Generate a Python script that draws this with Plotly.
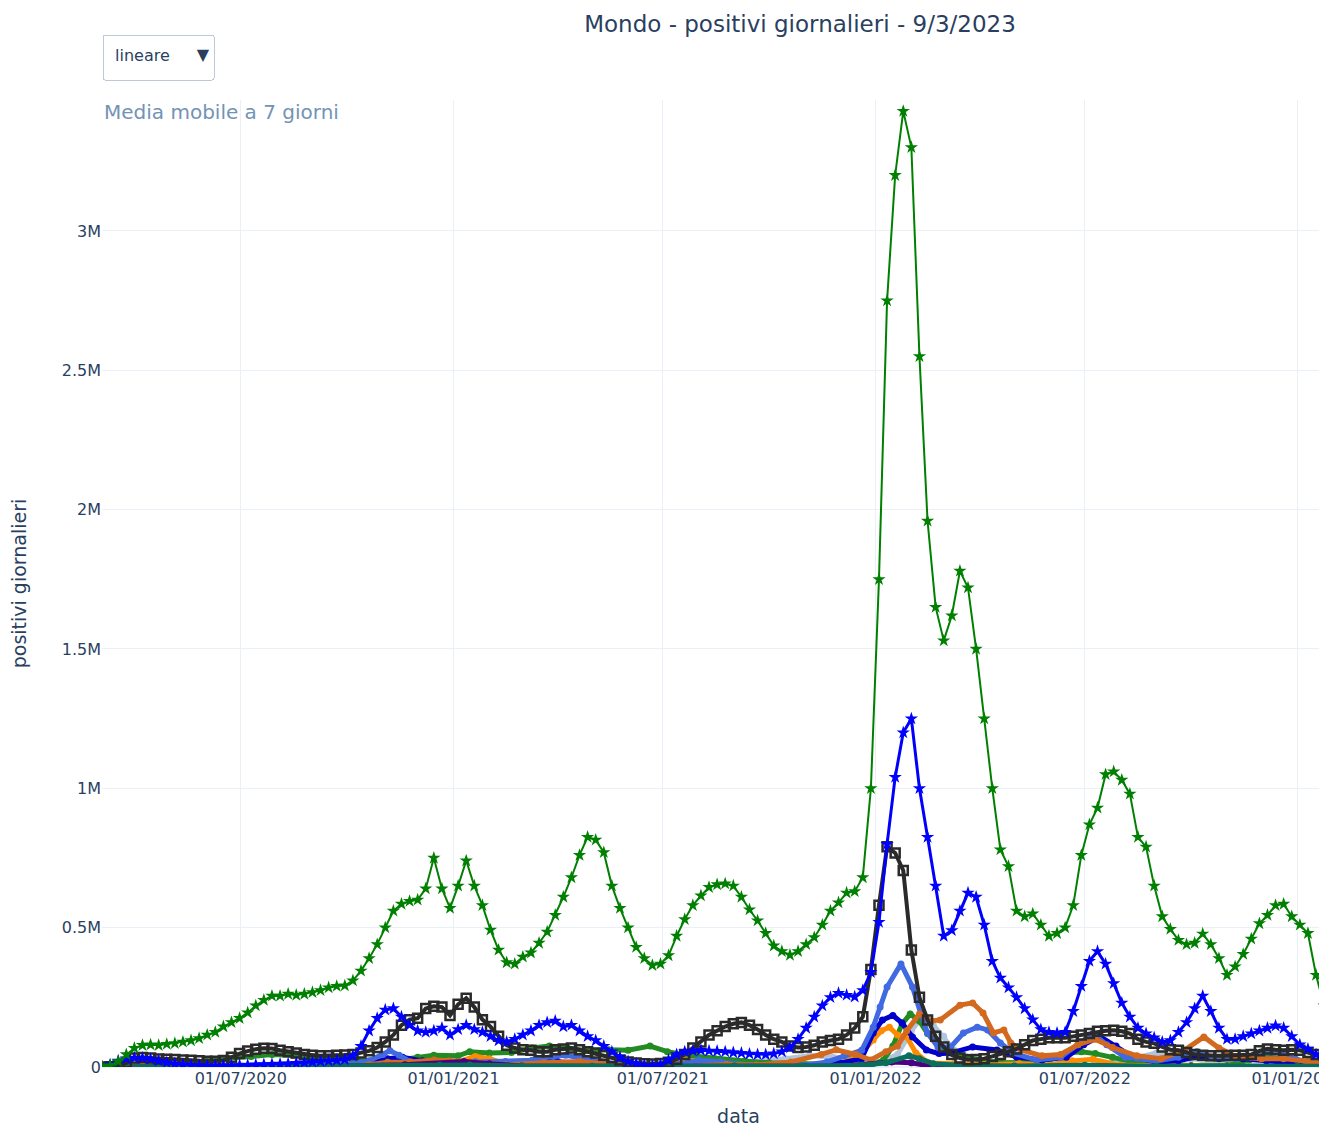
import plotly.graph_objects as go
import pandas as pd

# ---------------- data (values in thousands of daily cases, 7-day moving average) ----------------
WEEKLY_START = "2020-03-03"

mondo = [2, 5, 20, 45, 68, 78, 80, 78, 82, 85,
         90, 95, 103, 115, 125, 145, 160, 175, 195, 220,
         240, 255, 255, 262, 258, 262, 268, 275, 285, 290,
         292, 310, 345, 390, 440, 500, 560, 585, 595, 600,
         640, 750, 640, 570, 650, 740, 650, 580, 492, 420,
         375, 370, 395, 410, 445, 485, 545, 610, 680, 760,
         825, 815, 770, 650, 570, 500, 430, 390, 365, 370,
         400, 470, 530, 580, 615, 645, 655, 658, 650, 610,
         565, 525, 480, 435, 415, 402, 415, 440, 465, 510,
         560, 590, 625, 630, 680, 1000, 1750, 2750, 3200, 3430,
         3300, 2550, 1960, 1650, 1530, 1620, 1780, 1720, 1500, 1250,
         1000, 780, 720, 560, 540, 550, 510, 470, 480, 500,
         580, 760, 870, 930, 1050, 1060, 1030, 980, 825, 790,
         650, 540, 495, 455, 440, 445, 478, 440, 390, 330,
         360, 405, 460, 515, 545, 580, 585, 540, 510, 480,
         330, 220, 160, 130, 120, 110, 100]

europa = [1, 8, 22, 30, 33, 32, 28, 22, 16, 12,
          9, 7, 6, 5, 5, 5, 5, 6, 7, 8,
          9, 10, 11, 12, 14, 16, 18, 20, 22, 24,
          27, 40, 75, 130, 175, 205, 210, 180, 150, 130,
          125, 130, 140, 115, 135, 150, 135, 125, 110, 95,
          90, 100, 115, 130, 150, 160, 165, 145, 150, 130,
          110, 95, 75, 55, 35, 20, 12, 6, 4, 8,
          25, 45, 55, 58, 60, 58, 57, 55, 52, 50,
          47, 45, 45, 48, 55, 70, 100, 140, 180, 220,
          250, 265, 258, 252, 275, 340, 520, 800, 1040, 1200,
          1250, 1000, 825, 650, 470, 490, 560, 625, 610, 510,
          380, 320, 285, 250, 210, 170, 135, 125, 122, 125,
          200, 290, 380, 415, 370, 300, 230, 180, 140, 120,
          105, 90, 95, 125, 160, 210, 255, 200, 140, 100,
          100, 110, 120, 130, 140, 148, 140, 110, 80, 65,
          45, 30, 25, 25, 22, 20, 18]

usa = [0, 1, 5, 15, 32, 34, 32, 29, 28, 27,
       25, 24, 22, 21, 21, 23, 35, 48, 57, 64,
       67, 66, 60, 55, 50, 45, 42, 40, 40, 42,
       43, 45, 50, 58, 70, 90, 115, 150, 170, 175,
       210, 218, 215, 185, 225, 247, 215, 170, 145, 110,
       78, 68, 62, 60, 55, 55, 62, 65, 68, 62,
       55, 50, 42, 33, 25, 18, 14, 12, 11, 13,
       17, 28, 45, 68, 90, 115, 130, 145, 155, 160,
       150, 135, 115, 100, 90, 75, 70, 72, 78, 90,
       95, 100, 115, 140, 180, 350, 580, 790, 768, 705,
       420, 250, 169, 110, 72, 45, 32, 26, 27, 30,
       38, 45, 55, 65, 80, 95, 100, 105, 105, 105,
       110, 115, 120, 128, 130, 132, 128, 120, 100, 90,
       85, 72, 62, 60, 52, 45, 42, 40, 40, 41,
       42, 42, 45, 58, 65, 62, 60, 62, 60, 52,
       45, 42, 40, 38, 36, 32, 30]

francia_date = ["2020-03-03", "2020-03-28", "2020-04-08", "2020-04-25", "2020-06-01", "2020-07-20", "2020-08-20",
                "2020-09-15", "2020-10-05", "2020-10-20", "2020-11-01", "2020-11-07", "2020-11-15", "2020-11-25",
                "2020-12-10", "2020-12-25", "2021-01-20", "2021-02-15", "2021-03-10", "2021-03-28", "2021-04-08",
                "2021-04-22", "2021-05-10", "2021-06-01", "2021-06-25", "2021-07-15", "2021-08-01", "2021-08-20",
                "2021-09-15", "2021-10-10", "2021-11-01", "2021-11-20", "2021-12-05", "2021-12-20", "2021-12-30",
                "2022-01-05", "2022-01-11", "2022-01-23", "2022-02-02", "2022-02-09", "2022-02-15", "2022-02-24",
                "2022-03-07", "2022-03-18", "2022-03-30", "2022-04-08", "2022-04-19", "2022-04-30", "2022-05-20",
                "2022-06-10", "2022-06-25", "2022-07-08", "2022-07-20", "2022-08-05", "2022-09-01", "2022-09-20",
                "2022-10-06", "2022-10-20", "2022-11-10", "2022-12-01", "2022-12-15", "2022-12-30", "2023-01-15",
                "2023-02-15", "2023-03-07"]
francia = [0, 4, 5, 2, 0.5, 1, 3, 9, 12, 22, 45, 58, 42, 18, 12, 14, 19, 20, 24, 38, 42, 32, 18, 8, 2,
           10, 24, 18, 6, 4, 6, 18, 40, 60, 143, 215, 287, 370, 287, 194, 122, 72, 72, 122, 143, 133, 86,
           50, 25, 35, 80, 120, 80, 35, 22, 35, 55, 35, 30, 50, 55, 30, 10, 5, 4]

italia_date = ["2020-03-03", "2020-03-20", "2020-04-01", "2020-04-20", "2020-05-15", "2020-07-01", "2020-08-20",
               "2020-10-01", "2020-10-20", "2020-11-05", "2020-11-18", "2020-12-05", "2020-12-25", "2021-01-15",
               "2021-02-15", "2021-03-15", "2021-04-01", "2021-04-25", "2021-05-20", "2021-06-20", "2021-07-25",
               "2021-08-20", "2021-10-01", "2021-11-10", "2021-12-01", "2021-12-20", "2021-12-30", "2022-01-07",
               "2022-01-16", "2022-01-24", "2022-02-02", "2022-02-14", "2022-02-25", "2022-03-07", "2022-03-26",
               "2022-04-16", "2022-05-03", "2022-05-25", "2022-06-15", "2022-06-30", "2022-07-14", "2022-07-28",
               "2022-08-12", "2022-09-01", "2022-09-20", "2022-10-10", "2022-10-25", "2022-11-15", "2022-12-05",
               "2022-12-25", "2023-01-15", "2023-02-15", "2023-03-07"]
italia = [0.5, 5, 5, 3, 1, 0.2, 1, 2, 10, 30, 35, 22, 16, 15, 13, 22, 20, 13, 5, 1, 5, 6, 3, 6, 14, 30,
          122, 169, 185, 158, 108, 61, 48, 50, 72, 61, 36, 25, 35, 80, 110, 75, 35, 18, 22, 40, 30, 30,
          22, 18, 8, 4, 3]

spagna_date = ["2020-03-03", "2020-03-25", "2020-04-05", "2020-04-25", "2020-05-20", "2020-07-15", "2020-08-20",
               "2020-09-20", "2020-10-15", "2020-10-30", "2020-11-10", "2020-12-01", "2020-12-20", "2021-01-05",
               "2021-01-20", "2021-02-01", "2021-02-15", "2021-03-15", "2021-04-15", "2021-05-15", "2021-06-20",
               "2021-07-20", "2021-08-05", "2021-09-01", "2021-10-10", "2021-11-10", "2021-12-01", "2021-12-20",
               "2021-12-30", "2022-01-06", "2022-01-13", "2022-01-20", "2022-01-28", "2022-02-05", "2022-02-16",
               "2022-03-10", "2022-04-05", "2022-05-05", "2022-06-01", "2022-06-20", "2022-07-08", "2022-08-01",
               "2022-09-15", "2022-11-01", "2022-12-15", "2023-02-01", "2023-03-07"]
spagna = [0, 6, 7, 3, 0.5, 1, 6, 10, 12, 18, 17, 8, 9, 18, 38, 30, 12, 5, 7, 4, 4, 25, 18, 7, 2, 3, 10,
          50, 97, 130, 143, 115, 108, 50, 14, 12, 8, 12, 8, 22, 28, 6, 3, 2, 2, 2, 2]

germania_date = ["2020-03-03", "2020-03-28", "2020-04-10", "2020-05-01", "2020-07-01", "2020-08-20", "2020-10-01",
                 "2020-10-20", "2020-11-05", "2020-11-25", "2020-12-15", "2020-12-28", "2021-01-15", "2021-02-15",
                 "2021-03-20", "2021-04-20", "2021-05-15", "2021-06-10", "2021-07-15", "2021-08-25", "2021-09-20",
                 "2021-10-20", "2021-11-15", "2021-11-28", "2021-12-15", "2021-12-28", "2022-01-10", "2022-01-20",
                 "2022-01-28", "2022-02-08", "2022-02-18", "2022-02-26", "2022-03-15", "2022-03-26", "2022-04-04",
                 "2022-04-13", "2022-04-22", "2022-04-28", "2022-05-07", "2022-05-25", "2022-06-10", "2022-06-25",
                 "2022-07-10", "2022-07-25", "2022-08-15", "2022-09-05", "2022-09-25", "2022-10-12", "2022-10-25",
                 "2022-11-10", "2022-12-01", "2022-12-20", "2023-01-10", "2023-02-15", "2023-03-07"]
germania = [0, 6, 5, 1.5, 0.4, 1.2, 2, 8, 17, 18, 25, 22, 17, 8, 15, 20, 10, 2, 1, 9, 7, 18, 45, 62, 45,
            25, 55, 75, 130, 190, 165, 169, 222, 230, 194, 122, 133, 86, 61, 40, 45, 80, 100, 70, 40, 30,
            60, 108, 68, 35, 30, 30, 20, 15, 13]

russia_date = ["2020-03-03", "2020-04-15", "2020-05-10", "2020-06-01", "2020-07-01", "2020-08-01", "2020-09-01",
               "2020-10-01", "2020-10-25", "2020-11-20", "2020-12-10", "2020-12-28", "2021-01-20", "2021-02-15",
               "2021-03-15", "2021-04-15", "2021-05-15", "2021-06-10", "2021-07-05", "2021-07-25", "2021-08-20",
               "2021-09-20", "2021-10-15", "2021-11-05", "2021-11-25", "2021-12-20", "2022-01-05", "2022-01-20",
               "2022-02-01", "2022-02-12", "2022-02-20", "2022-03-01", "2022-03-10", "2022-03-25", "2022-04-10",
               "2022-05-01", "2022-06-01", "2022-07-01", "2022-07-25", "2022-08-15", "2022-09-01", "2022-09-15",
               "2022-10-01", "2022-10-20", "2022-11-15", "2022-12-15", "2023-01-15", "2023-02-15", "2023-03-07"]
russia = [0, 3, 10, 9, 7, 5, 5, 8, 15, 23, 28, 27, 22, 14, 10, 9, 8, 11, 23, 23, 20, 19, 30, 40, 36, 26,
          17, 45, 130, 190, 150, 110, 60, 35, 18, 7, 3.5, 4, 15, 35, 50, 45, 30, 15, 8, 6, 6, 12, 13]

brasile_date = ["2020-03-03", "2020-04-01", "2020-04-25", "2020-05-15", "2020-06-01", "2020-06-20", "2020-07-10",
                "2020-07-28", "2020-08-15", "2020-09-01", "2020-09-20", "2020-10-10", "2020-10-25", "2020-11-15",
                "2020-12-01", "2020-12-15", "2021-01-05", "2021-01-15", "2021-02-01", "2021-02-20", "2021-03-10",
                "2021-03-25", "2021-04-10", "2021-04-25", "2021-05-15", "2021-06-01", "2021-06-20", "2021-07-05",
                "2021-07-25", "2021-08-15", "2021-09-10", "2021-10-01", "2021-10-25", "2021-11-15", "2021-12-10",
                "2021-12-28", "2022-01-08", "2022-01-16", "2022-01-24", "2022-01-31", "2022-02-08", "2022-02-15",
                "2022-02-25", "2022-03-10", "2022-04-01", "2022-04-20", "2022-05-10", "2022-06-01", "2022-06-15",
                "2022-06-28", "2022-07-10", "2022-07-25", "2022-08-10", "2022-09-01", "2022-10-01", "2022-11-01",
                "2022-11-20", "2022-12-05", "2022-12-20", "2023-01-10", "2023-02-01", "2023-03-07"]
brasile = [0, 1, 4, 10, 22, 32, 38, 45, 42, 38, 28, 24, 20, 25, 35, 42, 40, 55, 50, 52, 68, 75, 67, 58, 62,
           60, 75, 55, 40, 30, 22, 15, 12, 9, 7, 5, 25, 75, 155, 190, 165, 120, 75, 45, 25, 15, 17, 30, 50,
           55, 48, 35, 20, 12, 5, 5, 25, 35, 28, 20, 10, 6]

sudafrica_date = ["2020-03-03", "2020-06-01", "2020-07-15", "2020-09-01", "2020-11-01", "2020-12-20", "2021-01-15",
                  "2021-03-01", "2021-05-01", "2021-07-01", "2021-09-01", "2021-11-01", "2021-12-20", "2022-01-10",
                  "2022-01-30", "2022-02-08", "2022-02-20", "2022-03-15", "2022-05-01", "2022-07-01", "2022-09-01",
                  "2022-11-01", "2023-01-01", "2023-03-07"]
sudafrica = [0, 2, 4, 3, 4, 6, 7, 4, 3, 5, 4, 3, 6, 15, 40, 30, 12, 6, 4, 6, 3, 2, 3, 2]

altro_date = ["2020-03-03", "2020-06-01", "2020-09-01", "2020-11-20", "2021-01-10", "2021-02-01", "2021-03-01",
              "2021-06-01", "2021-09-01", "2021-12-01", "2022-01-15", "2022-02-01", "2022-02-15", "2022-04-01",
              "2022-07-01", "2022-10-01", "2023-01-01", "2023-03-07"]
altro = [0, 1, 1.5, 8, 20, 12, 4, 2, 3, 3, 18, 15, 5, 2, 2, 1, 1, 1]

weekly_dates = pd.date_range(WEEKLY_START, periods=len(mondo), freq="7D")

TITLE = "Mondo - positivi giornalieri - 9/3/2023"
SUBTITLE = "Media mobile a 7 giorni"
MENU_LABELS = ["lineare", "scala log<br>(log10)"]


def k(vals):
    return [v * 1000 for v in vals]


fig = go.Figure()

small = [
    ("Russia", russia_date, russia, "lightsteelblue"),
    ("Brasile", brasile_date, brasile, "forestgreen"),
    ("Spagna", spagna_date, spagna, "darkorange"),
    ("Italia", italia_date, italia, "mediumblue"),
    ("Francia", francia_date, francia, "royalblue"),
    ("Germania", germania_date, germania, "chocolate"),
    ("Altro", altro_date, altro, "indigo"),
    ("Sudafrica", sudafrica_date, sudafrica, "#0b6e5c"),
]
for name, d, v, c in small:
    fig.add_trace(go.Scatter(x=d, y=k(v), name=name, mode="lines+markers",
                             line=dict(color=c, width=5),
                             marker=dict(symbol="circle", size=7, color=c)))

fig.add_trace(go.Scatter(x=weekly_dates, y=k(usa), name="USA", mode="lines+markers",
                         line=dict(color="#2a2a2a", width=4),
                         marker=dict(symbol="square-open", size=9, color="#2a2a2a",
                                     line=dict(width=2.5, color="#2a2a2a"))))
fig.add_trace(go.Scatter(x=weekly_dates, y=k(europa), name="Europa", mode="lines+markers",
                         line=dict(color="blue", width=3),
                         marker=dict(symbol="star", size=10, color="blue")))
fig.add_trace(go.Scatter(x=weekly_dates, y=k(mondo), name="Mondo", mode="lines+markers",
                         line=dict(color="green", width=2),
                         marker=dict(symbol="star", size=10, color="green")))

W, H = 1584, 1130
T, B = 92, 71
PLOT_H = H - T - B
fig.update_layout(
    template="plotly_white",
    width=W, height=H,
    margin=dict(l=94, r=217, t=T, b=B),
    font=dict(family="DejaVu Sans", size=16),
    title=dict(text=TITLE, x=0.5, xanchor="center", y=1 - 16 / H, yanchor="middle",
               font=dict(size=23)),
    xaxis=dict(title=dict(text="data", standoff=22), range=["2020-03-03", "2023-03-09"],
               dtick="M6", tick0="2020-01-01", tickformat="%d/%m/%Y", automargin=False),
    yaxis=dict(title=dict(text="positivi giornalieri", standoff=30), range=[0, 3.47e6],
               automargin=False),
    showlegend=False,
    updatemenus=[dict(
        type="dropdown", direction="down", showactive=True,
        x=0, xanchor="left", y=1 + 66 / PLOT_H, yanchor="top",
        bgcolor="white", bordercolor="#BEC8D9", borderwidth=1,
        buttons=[
            dict(label=MENU_LABELS[0], method="relayout", args=[{"yaxis.type": "linear"}]),
            dict(label=MENU_LABELS[1], method="relayout", args=[{"yaxis.type": "log"}]),
        ],
    )],
    annotations=[dict(text=SUBTITLE, x=0, xref="paper", xanchor="left",
                      y=1 - 12 / PLOT_H, yref="paper", yanchor="middle",
                      showarrow=False, font=dict(size=20, color="#7393b5"))],
)

fig.write_html("out.html")
